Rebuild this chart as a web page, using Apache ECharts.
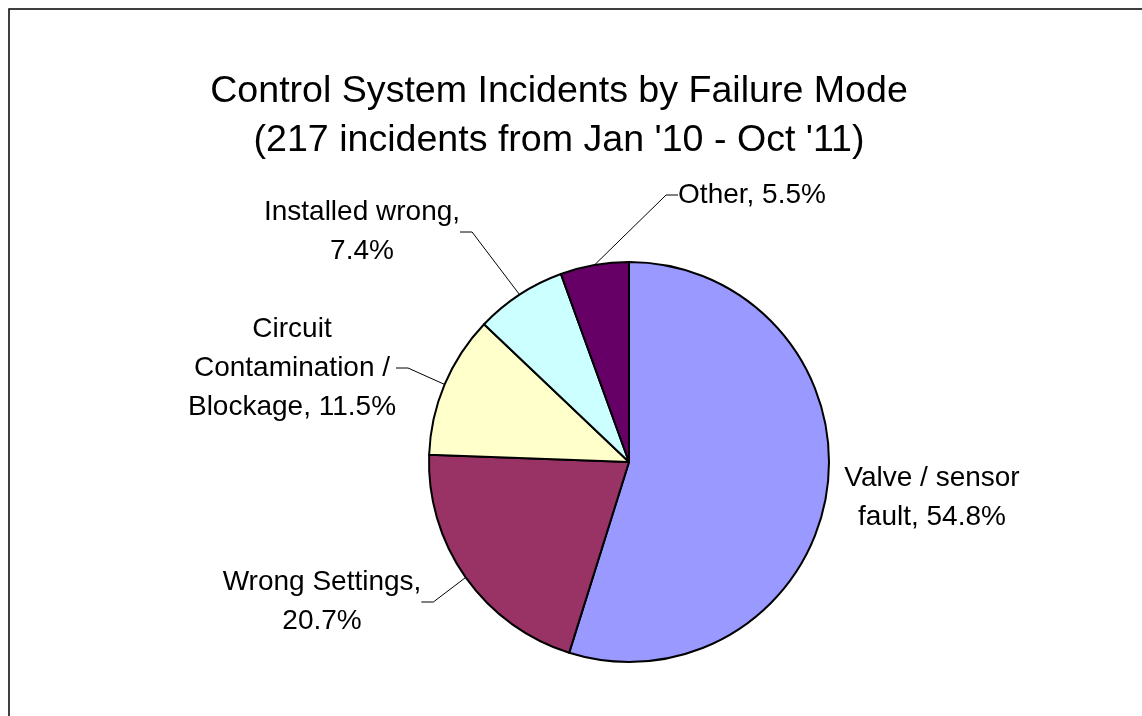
<!DOCTYPE HTML>
<html>
<head>
<meta charset="utf-8">
<script src="https://cdn.jsdelivr.net/npm/echarts@6/dist/echarts.min.js"></script>
<style>
	html, body { margin: 0; padding: 0; background: #fff; }
	#pieChart { width: 1142px; height: 716px; }
</style>
</head>
<body>
<div id="pieChart"></div>
<script type="text/javascript">
	// data (217 incidents)
	var names = ['Valve / sensor fault', 'Wrong Settings', 'Circuit Contamination / Blockage', 'Installed wrong', 'Other'];
	var counts = [119, 45, 25, 16, 12];
	// label text, {p} is replaced by the percent
	var labelTexts = ['Valve / sensor\nfault, {p}', 'Wrong Settings,\n{p}', 'Circuit\nContamination /\nBlockage, {p}', 'Installed wrong,\n{p}', 'Other, {p}'];
	var colors = ['#9999FF', '#993366', '#FFFFCC', '#CCFFFF', '#660066'];

	// where the labels sit (centre of text block, px)
	var labelPos = [[932, 498], [322, 602], [292, 368], [362, 232], [752, 195]];

	var pieChart = echarts.init(document.getElementById('pieChart'));

	var pieData = [];
	for (var i = 0; i < names.length; i++) {
		var item = {
			name: names[i],
			value: counts[i],
			itemStyle: { color: colors[i] }
		};
		if (i == 0) {
			item.labelLine = { show: false };
		}
		pieData.push(item);
	}

	var pieOption = {
		animation: false,
		backgroundColor: '#fff',
		title: {
			text: 'Control System Incidents by Failure Mode\n(217 incidents from Jan \'10 - Oct \'11)',
			left: 554,
			top: 62,
			textAlign: 'center',
			textStyle: {
				fontFamily: 'Liberation Sans',
				fontSize: 37.6,
				fontWeight: 'normal',
				lineHeight: 49,
				color: '#000'
			}
		},
		graphic: [{ // frame
			type: 'rect',
			shape: { x: 9, y: 9, width: 2000, height: 2000 },
			style: { fill: 'none', stroke: '#000', lineWidth: 1.5 },
			silent: true
		}],
		series: [{
			type: 'pie',
			center: [629, 462],
			radius: 200,
			startAngle: 90,
			clockwise: true,
			avoidLabelOverlap: false,
			itemStyle: {
				borderColor: '#000',
				borderWidth: 2
			},
			label: {
				show: true,
				position: 'outside',
				color: '#000',
				fontFamily: 'Liberation Sans',
				fontSize: 28,
				lineHeight: 39,
				formatter: function(p) {
					return labelTexts[p.dataIndex].replace('{p}', p.percent.toFixed(1) + '%');
				}
			},
			labelLine: {
				show: true,
				length: 20,
				length2: 12,
				lineStyle: { color: '#000', width: 1 }
			},
			labelLayout: function(params) {
				var pos = labelPos[params.dataIndex];
				return {
					x: pos[0],
					y: pos[1],
					align: 'center',
					verticalAlign: 'middle'
				};
			},
			emphasis: { disabled: true },
			data: pieData
		}]
	};

	pieChart.setOption(pieOption);
	window.onresize = pieChart.resize;
</script>
</body>
</html>
